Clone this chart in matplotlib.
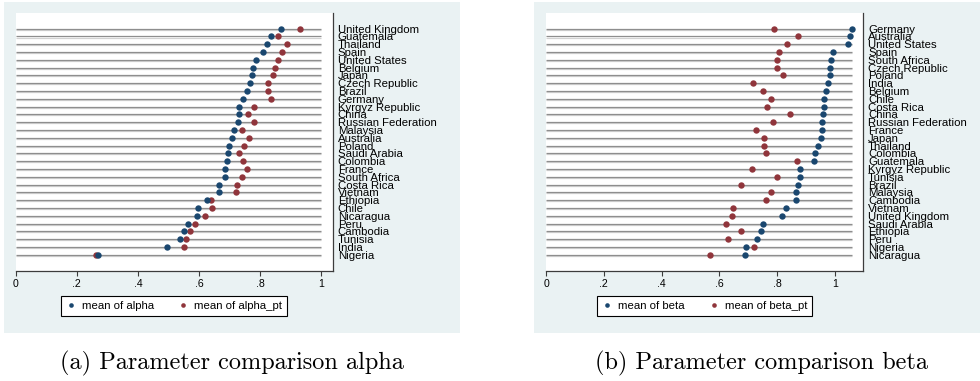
import matplotlib
matplotlib.use("Agg")
import matplotlib.pyplot as plt
from matplotlib.patches import Rectangle
import matplotlib.patheffects as pe

# ---- data -------------------------------------------------------------
countries_alpha = [
    "United Kingdom", "Guatemala", "Thailand", "Spain", "United States",
    "Belgium", "Japan", "Czech Republic", "Brazil", "Germany",
    "Kyrgyz Republic", "China", "Russian Federation", "Malaysia", "Australia",
    "Poland", "Saudi Arabia", "Colombia", "France", "South Africa",
    "Costa Rica", "Vietnam", "Ethiopia", "Chile", "Nicaragua",
    "Peru", "Cambodia", "Tunisia", "India", "Nigeria",
]
alpha = [
    0.868, 0.834, 0.822, 0.808, 0.785, 0.775, 0.773, 0.768, 0.758, 0.744,
    0.729, 0.729, 0.726, 0.715, 0.707, 0.698, 0.694, 0.690, 0.686, 0.686,
    0.666, 0.666, 0.626, 0.596, 0.594, 0.564, 0.549, 0.539, 0.495, 0.268,
]
alpha_pt = [
    0.930, 0.858, 0.887, 0.870, 0.858, 0.847, 0.841, 0.826, 0.824, 0.835,
    0.781, 0.761, 0.779, 0.739, 0.763, 0.748, 0.732, 0.744, 0.756, 0.741,
    0.723, 0.721, 0.640, 0.642, 0.618, 0.588, 0.571, 0.556, 0.550, 0.262,
]

countries_beta = [
    "Germany", "Australia", "United States", "Spain", "South Africa",
    "Czech Republic", "Poland", "India", "Belgium", "Chile",
    "Costa Rica", "China", "Russian Federation", "France", "Japan",
    "Thailand", "Colombia", "Guatemala", "Kyrgyz Republic", "Tunisia",
    "Brazil", "Malaysia", "Cambodia", "Vietnam", "United Kingdom",
    "Saudi Arabia", "Ethiopia", "Peru", "Nigeria", "Nicaragua",
]
beta = [
    1.058, 1.053, 1.045, 0.992, 0.986, 0.984, 0.983, 0.975, 0.970, 0.963,
    0.961, 0.959, 0.955, 0.954, 0.951, 0.941, 0.930, 0.928, 0.879, 0.878,
    0.873, 0.865, 0.864, 0.829, 0.818, 0.750, 0.743, 0.732, 0.691, 0.688,
]
beta_pt = [
    0.788, 0.873, 0.834, 0.808, 0.801, 0.798, 0.820, 0.718, 0.752, 0.778,
    0.766, 0.846, 0.787, 0.728, 0.756, 0.756, 0.763, 0.870, 0.714, 0.801,
    0.674, 0.780, 0.760, 0.646, 0.645, 0.622, 0.675, 0.631, 0.720, 0.566,
]

tick_values = [0, 0.2, 0.4, 0.6, 0.8, 1.0]
tick_labels = ["0", ".2", ".4", ".6", ".8", "1"]

# ---- style ------------------------------------------------------------
NAVY = "#1a476f"
MAROON = "#90353b"
BG = "#eaf2f3"
AXIS = "#3c3c3c"
SANS = ["Liberation Sans", "DejaVu Sans"]

W, H = 980, 381
fig = plt.figure(figsize=(W / 100, H / 100), dpi=100)
fig.patch.set_facecolor("white")


def px_rect(x0, x1, y0, y1):
    """Figure-fraction rectangle from pixel edges measured from the top-left."""
    return [x0 / W, 1 - y1 / H, (x1 - x0) / W, (y1 - y0) / H]


# graph-region backgrounds, kept beneath the axes
for x0, x1 in [(4, 460), (534, 990)]:
    l, b, w, h = px_rect(x0, x1, 2, 333.3)
    fig.patches.append(Rectangle((l, b), w, h, transform=fig.transFigure,
                                 facecolor=BG, edgecolor="none", zorder=-10))


def dot_panel(rect, names, v1, v2, lab1, lab2, caption, cap_x):
    ax = fig.add_axes(rect)
    ax.set_zorder(1)
    ax.set_facecolor("white")
    n = len(names)
    rows = list(range(n))
    end = max(1.0, max(v1), max(v2))

    ax.hlines(rows, 0, end, color="#8e8e8e", lw=0.9, zorder=1,
              path_effects=[pe.SimpleLineShadow(offset=(0, -0.75),
                                                shadow_color="#d2d2d2",
                                                alpha=1.0),
                            pe.Normal()])
    h2, = ax.plot(v2, rows, "o", color=MAROON, ms=4.6, mew=0, zorder=3,
                  label=lab2)
    h1, = ax.plot(v1, rows, "o", color=NAVY, ms=4.6, mew=0, zorder=4,
                  label=lab1)

    ax.set_xlim(0, end * 1.038)
    ax.set_ylim(n - 1 + 2.05, -2.05)

    ax.set_yticks(rows)
    ax.set_yticklabels(names, family=SANS, fontsize=8.2)
    ax.yaxis.tick_right()
    ax.tick_params(axis="y", length=0, pad=3.5, colors="black")

    ax.set_xticks(tick_values)
    ax.set_xticklabels(tick_labels, family=SANS, fontsize=7.6)
    ax.tick_params(axis="x", length=3.6, width=0.8, color=AXIS, pad=2.5)

    for side in ("top", "left"):
        ax.spines[side].set_visible(False)
    for side in ("right", "bottom"):
        ax.spines[side].set_color(AXIS)
        ax.spines[side].set_linewidth(0.9)

    leg = ax.legend(handles=[h1, h2], loc="upper center",
                    bbox_to_anchor=(0.5, -0.098), ncol=2, frameon=True,
                    fancybox=False, framealpha=1, edgecolor="black",
                    prop={"family": SANS, "size": 8.2}, markerscale=0.72,
                    handlelength=0.8, handletextpad=0.55, columnspacing=2.2,
                    borderpad=0.45, borderaxespad=0)
    leg.get_frame().set_linewidth(0.8)

    fig.text(cap_x / W, 1 - 363 / H, caption, ha="center", va="center",
             family="cmr10", fontsize=17.5)
    return ax


dot_panel(px_rect(15.7, 333, 12.7, 270.7), countries_alpha, alpha, alpha_pt,
          "mean of alpha", "mean of alpha_pt",
          "(a) Parameter comparison alpha", 232)
dot_panel(px_rect(546, 863.3, 12.7, 270.7), countries_beta, beta, beta_pt,
          "mean of beta", "mean of beta_pt",
          "(b) Parameter comparison beta", 761)

fig.savefig("out.png", dpi=100, facecolor="white")
